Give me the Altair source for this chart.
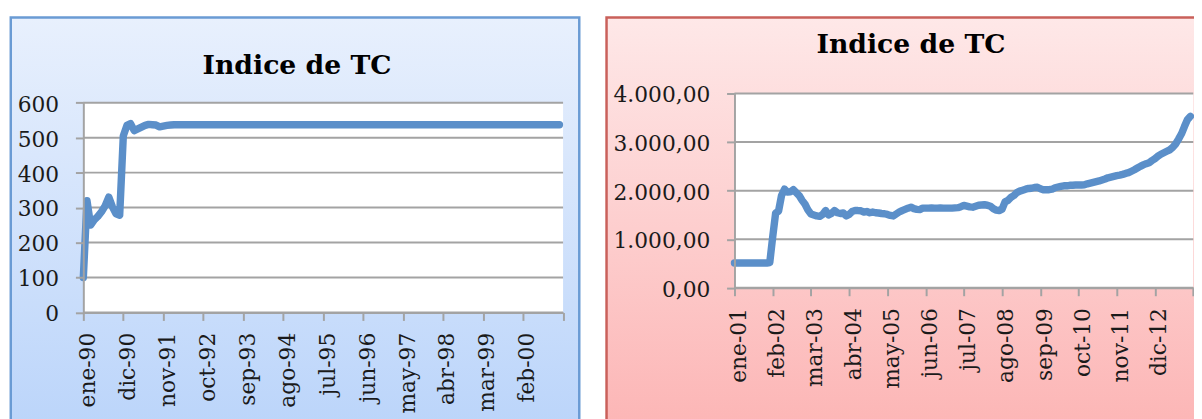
import json
import altair as alt
import pandas as pd

TITLE = "Indice de TC"

# ---- left panel: 1990-2000, monthly ----
left_values = [
    100, 320, 250, 265, 275, 288, 305, 330, 302, 282,
    278, 505, 535, 540, 520, 525, 530, 535, 538, 537,
    536, 531, 533, 535, 536, 537, 537, 537, 537, 537,
    537, 537, 537, 537, 537, 537, 537, 537, 537, 537,
    537, 537, 537, 537, 537, 537, 537, 537, 537, 537,
    537, 537, 537, 537, 537, 537, 537, 537, 537, 537,
    537, 537, 537, 537, 537, 537, 537, 537, 537, 537,
    537, 537, 537, 537, 537, 537, 537, 537, 537, 537,
    537, 537, 537, 537, 537, 537, 537, 537, 537, 537,
    537, 537, 537, 537, 537, 537, 537, 537, 537, 537,
    537, 537, 537, 537, 537, 537, 537, 537, 537, 537,
    537, 537, 537, 537, 537, 537, 537, 537, 537, 537,
    537, 537, 537, 537, 537, 537, 537, 537, 537, 537,
    537, 537,
]
left_xticks = [0, 11, 22, 33, 44, 55, 66, 77, 88, 99, 110, 121, 132]
left_xlabels = ["ene-90", "dic-90", "nov-91", "oct-92", "sep-93", "ago-94",
                "jul-95", "jun-96", "may-97", "abr-98", "mar-99", "feb-00", ""]
left_yticks = [0, 100, 200, 300, 400, 500, 600]
left_ylabels = ["0", "100", "200", "300", "400", "500", "600"]

# ---- right panel: 2001-2013, monthly ----
right_values = [
    510, 510, 510, 510, 510, 510, 510, 510, 510, 510,
    510, 510, 520, 1050, 1540, 1580, 1900, 2030, 1970, 1975,
    2020, 1960, 1900, 1800, 1720, 1600, 1520, 1500, 1480, 1470,
    1510, 1590, 1500, 1530, 1590, 1545, 1530, 1540, 1480, 1510,
    1570, 1590, 1590, 1585, 1560, 1570, 1545, 1560, 1545, 1540,
    1530, 1525, 1510, 1490, 1480, 1520, 1560, 1590, 1615, 1640,
    1660, 1630, 1615, 1610, 1640, 1640, 1640, 1645, 1640, 1640,
    1645, 1640, 1640, 1640, 1640, 1645, 1650, 1670, 1695, 1680,
    1665, 1660, 1680, 1700, 1705, 1710, 1700, 1680, 1630, 1600,
    1590, 1620, 1770, 1800, 1860, 1900, 1960, 1990, 2010, 2030,
    2045, 2050, 2065, 2070, 2040, 2020, 2020, 2020, 2030, 2060,
    2075, 2090, 2100, 2100, 2110, 2110, 2115, 2115, 2115, 2120,
    2140, 2155, 2170, 2185, 2200, 2220, 2240, 2265, 2280, 2295,
    2310, 2320, 2335, 2355, 2370, 2400, 2430, 2465, 2500, 2530,
    2555, 2575, 2620, 2660, 2710, 2750, 2780, 2810, 2840, 2890,
    2960, 3060, 3170, 3320, 3460, 3530,
]
right_xticks = [0, 13, 26, 39, 52, 65, 78, 91, 104, 117, 130, 143, 156]
right_xlabels = ["ene-01", "feb-02", "mar-03", "abr-04", "may-05", "jun-06",
                 "jul-07", "ago-08", "sep-09", "oct-10", "nov-11", "dic-12", ""]
right_yticks = [0, 1000, 2000, 3000, 4000]
right_ylabels = ["0,00", "1.000,00", "2.000,00", "3.000,00", "4.000,00"]

LINE_COLOR = "#5b8fc9"
GRID_COLOR = "#a3a3a3"
FONT = "DejaVu Serif"


def label_expr(ticks, labels):
    return "%s[indexof(%s, datum.value)]" % (json.dumps(labels), json.dumps(ticks))


def panel(values, xticks, xlabels, yticks, ylabels, width, height, yrange,
          stops, border, rect_x, rect_x2, title_x, title_y):
    df = pd.DataFrame({"m": list(range(len(values))), "v": values})
    xs = alt.Scale(domain=[0, xticks[-1]], nice=False, zero=False)
    if yrange:
        ys = alt.Scale(domain=[0, yticks[-1]], nice=False, range=yrange)
        top = yrange[1]
    else:
        ys = alt.Scale(domain=[0, yticks[-1]], nice=False)
        top = 0
    one = alt.Data(values=[{"t": TITLE}])

    yaxis = alt.Axis(values=yticks, labelExpr=label_expr(yticks, ylabels),
                     tickSize=8, labelPadding=17, labelOffset=1.5,
                     labelOverlap=False, grid=False, zindex=1)
    yenc = alt.Y("v:Q", scale=ys, title=None, axis=yaxis)

    bg = alt.Chart(one).mark_rect(
        fill=alt.LinearGradient(
            gradient="linear",
            stops=[alt.GradientStop(color=stops[0], offset=0),
                   alt.GradientStop(color=stops[1], offset=1)],
            x1=0, x2=0, y1=0, y2=1),
        stroke=border, strokeWidth=2.5,
    ).encode(x=alt.value(rect_x), x2=alt.value(rect_x2),
             y=alt.value(-77), y2=alt.value(350))

    plot_bg = alt.Chart(one).mark_rect(fill="white").encode(
        x=alt.value(0), x2=alt.value(width),
        y=alt.value(top), y2=alt.value(height))

    grid = alt.Chart(pd.DataFrame({"v": yticks})).mark_rule(
        color=GRID_COLOR, strokeWidth=2
    ).encode(y=yenc)

    line = alt.Chart(df).mark_line(
        color=LINE_COLOR, strokeWidth=7.5, strokeCap="round", strokeJoin="round"
    ).encode(
        x=alt.X("m:Q", scale=xs, title=None, axis=alt.Axis(
            values=xticks, labelExpr=label_expr(xticks, xlabels),
            labelAngle=270, tickSize=8, labelPadding=12, labelOffset=4,
            labelFlush=False, labelOverlap=False, grid=False, zindex=1)),
        y=yenc,
    )

    title = alt.Chart(one).mark_text(
        font=FONT, fontWeight="bold", fontSize=27, align="center",
        baseline="alphabetic", color="black"
    ).encode(x=alt.value(title_x), y=alt.value(title_y), text="t:N")

    return alt.layer(bg, plot_bg, grid, line, title).properties(
        width=width, height=height)


left = panel(left_values, left_xticks, left_xlabels, left_yticks, left_ylabels,
             485.6, 221.7, [221.7, 9.3], ["#e8f0fd", "#bad4fa"], "#6a9bd4",
             -73.45, 502.0, 216.3, -20)
right = panel(right_values, right_xticks, right_xlabels, right_yticks, right_ylabels,
              464.4, 196.7, None, ["#fee8e8", "#fcb4b4"], "#c9605a",
              -129.5, 482.45, 178.7, -40.5)

chart = alt.hconcat(left, right, spacing=24.1).properties(
    padding={"left": 1.25, "top": 5, "right": -18.75, "bottom": -21},
    background="white",
).configure_view(stroke=None).configure_axis(
    domainColor=GRID_COLOR, domainWidth=2, tickColor=GRID_COLOR, tickWidth=2,
    labelFont=FONT, labelFontSize=22, labelColor="#1a1a1a",
)

chart.save("out.html", embed_options={"renderer": "svg", "actions": False})
